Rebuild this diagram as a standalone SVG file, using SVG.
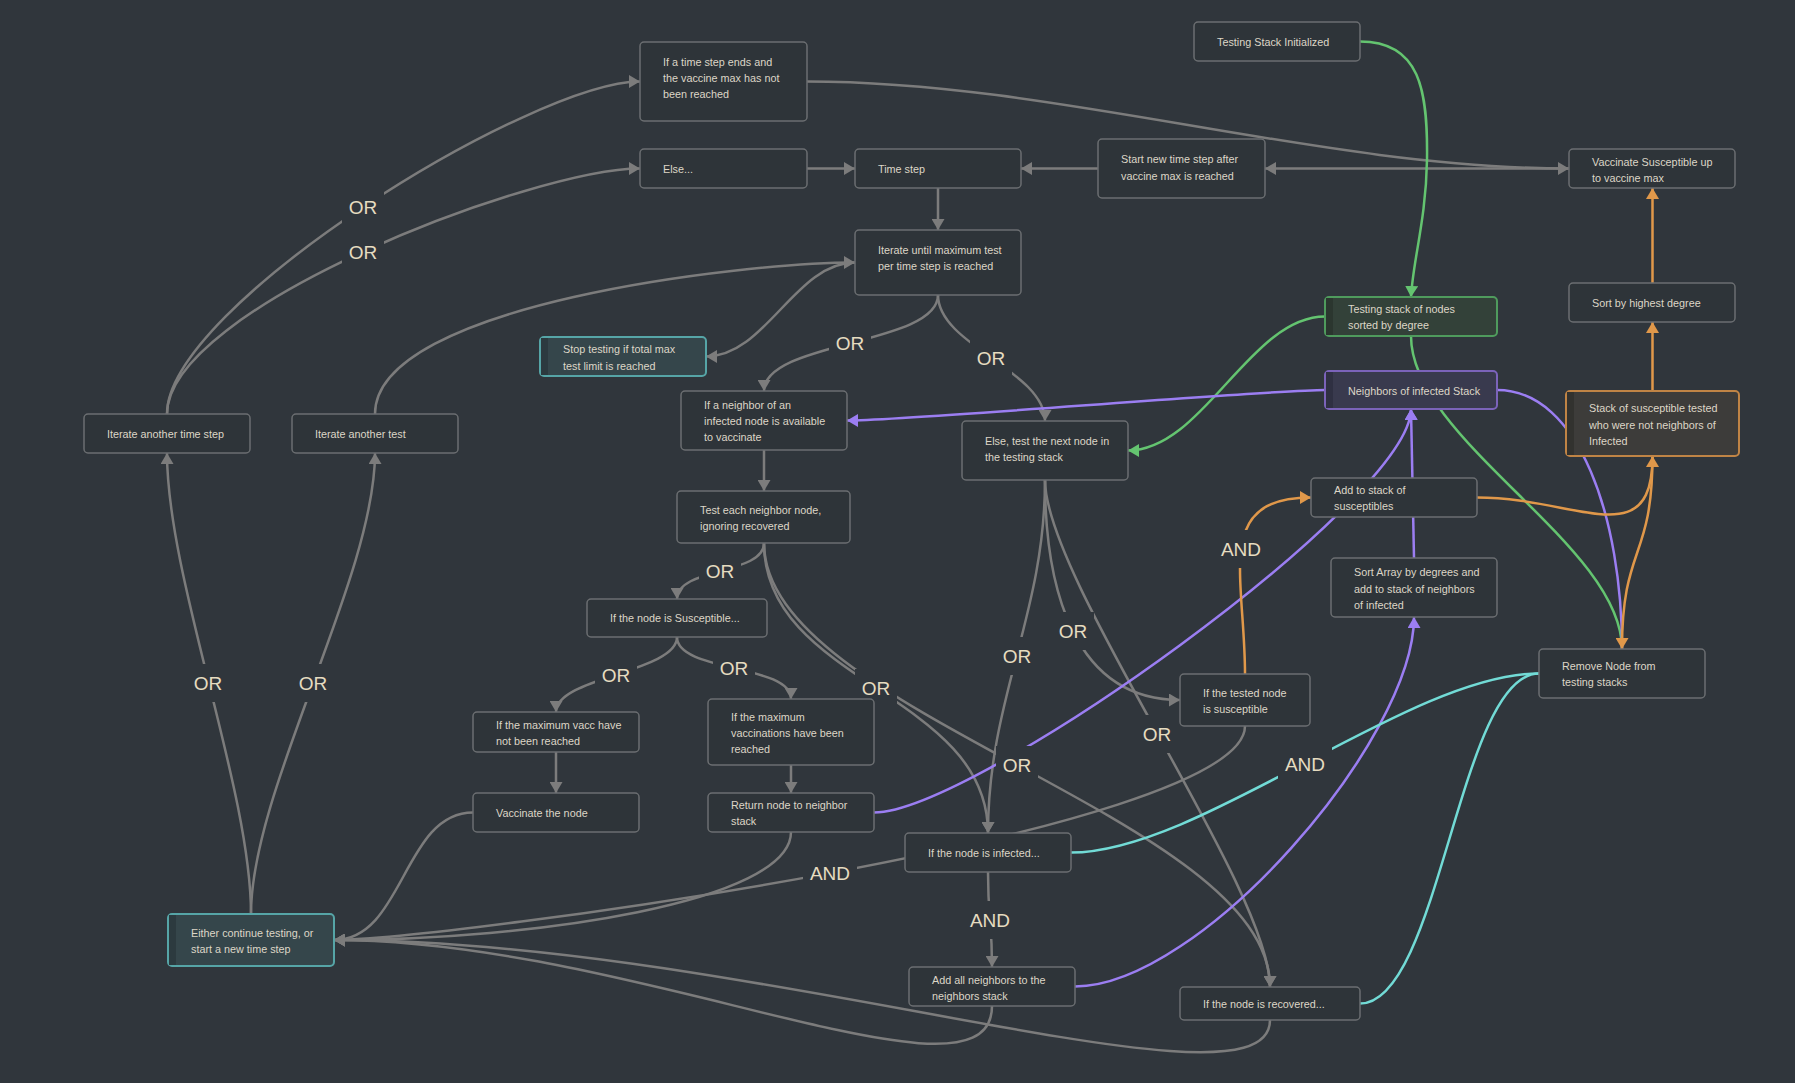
<svg xmlns="http://www.w3.org/2000/svg" width="1795" height="1083" viewBox="0 0 1795 1083">
  <style>
    .bg { fill: #30363c; }
    .edge { fill: none; stroke-width: 2.5; }
    .gray { stroke: #7c7c7c; }
    .green { stroke: #64c470; }
    .purple { stroke: #9b7ef2; }
    .orange { stroke: #e0984a; }
    .cyan { stroke: #72dbd6; }
    .box { fill: #2e3439; stroke: #6b6e71; stroke-width: 1.5; }
    .teal .box { fill: #35464b; stroke: #56a5a7; stroke-width: 2; }
    .teal .strip { fill: #2c3a3f; }
    .grn .box { fill: #334139; stroke: #4f9b5d; stroke-width: 2; }
    .grn .strip { fill: #2b362f; }
    .pur .box { fill: #393a4e; stroke: #7b63ba; stroke-width: 2; }
    .pur .strip { fill: #2f3042; }
    .org .box { fill: #3d3c3a; stroke: #c08445; stroke-width: 2; }
    .org .strip { fill: #32322f; }
    .node text { font-family: "Liberation Sans", Arial, sans-serif; font-size: 10.8px; fill: #ddd6c7; }
    .lbl rect { fill: #30363c; }
    .lbl text { font-family: "Liberation Sans", Arial, sans-serif; font-size: 19px; fill: #e6dcc0; text-anchor: middle; }
  </style>
  <defs>
    <marker id="ah-gray" markerUnits="userSpaceOnUse" markerWidth="12" markerHeight="13" refX="11" refY="6.5" orient="auto">
      <path d="M0,0 L11,6.5 L0,13 z" fill="#7c7c7c"/>
    </marker>
    <marker id="ah-green" markerUnits="userSpaceOnUse" markerWidth="12" markerHeight="13" refX="11" refY="6.5" orient="auto">
      <path d="M0,0 L11,6.5 L0,13 z" fill="#64c470"/>
    </marker>
    <marker id="ah-purple" markerUnits="userSpaceOnUse" markerWidth="12" markerHeight="13" refX="11" refY="6.5" orient="auto">
      <path d="M0,0 L11,6.5 L0,13 z" fill="#9b7ef2"/>
    </marker>
    <marker id="ah-orange" markerUnits="userSpaceOnUse" markerWidth="12" markerHeight="13" refX="11" refY="6.5" orient="auto">
      <path d="M0,0 L11,6.5 L0,13 z" fill="#e0984a"/>
    </marker>
  </defs>

  <rect class="bg" x="0" y="0" width="1795" height="1083"/>

  <!-- connectors -->
  <g id="connectors">
    <!-- gray flow -->
    <path class="edge gray" d="M167,414 C167,306 532,81.5 640,81.5" marker-end="url(#ah-gray)"/>
    <path class="edge gray" d="M167,414 C167,308 534,168.5 640,168.5" marker-end="url(#ah-gray)"/>
    <path class="edge gray" d="M375,414 C375,304 745,262.5 855,262.5" marker-end="url(#ah-gray)"/>
    <path class="edge gray" d="M855,262.5 C795,262.5 766,356.5 706,356.5" marker-end="url(#ah-gray)"/>
    <path class="edge gray" d="M807,168.5 L855,168.5" marker-end="url(#ah-gray)"/>
    <path class="edge gray" d="M1098,168.5 L1021,168.5" marker-end="url(#ah-gray)"/>
    <path class="edge gray" d="M1569,168.5 L1265,168.5" marker-end="url(#ah-gray)"/>
    <path class="edge gray" d="M807,81.5 C1057,81.5 1319,168.5 1569,168.5" marker-end="url(#ah-gray)"/>
    <path class="edge gray" d="M938,188 L938,230" marker-end="url(#ah-gray)"/>
    <path class="edge gray" d="M938,295 C938,345 764,341 764,391" marker-end="url(#ah-gray)"/>
    <path class="edge gray" d="M938,295 C938,345 1045,371 1045,421" marker-end="url(#ah-gray)"/>
    <path class="edge gray" d="M764,450 L764,491" marker-end="url(#ah-gray)"/>
    <path class="edge gray" d="M764,543 C764,575 677,567 677,599" marker-end="url(#ah-gray)"/>
    <path class="edge gray" d="M764,543 C764,683 988,693 988,833" marker-end="url(#ah-gray)"/>
    <path class="edge gray" d="M764,543 C764,713 1270,817 1270,987" marker-end="url(#ah-gray)"/>
    <path class="edge gray" d="M677,637 C677,672 556,677 556,712" marker-end="url(#ah-gray)"/>
    <path class="edge gray" d="M677,637 C677,672 791,664 791,699" marker-end="url(#ah-gray)"/>
    <path class="edge gray" d="M556,752 L556,793" marker-end="url(#ah-gray)"/>
    <path class="edge gray" d="M791,765 L791,793" marker-end="url(#ah-gray)"/>
    <path class="edge gray" d="M473,812.5 C403,812.5 404,940 334,940" marker-end="url(#ah-gray)"/>
    <path class="edge gray" d="M791,832 C791,902 534,940 334,940" marker-end="url(#ah-gray)"/>
    <path class="edge gray" d="M1245,726 C1245,833 441,940 334,940" marker-end="url(#ah-gray)"/>
    <path class="edge gray" d="M992,1006 C992,1120 634,940 334,940" marker-end="url(#ah-gray)"/>
    <path class="edge gray" d="M1270,1020 C1270,1125 754,940 334,940" marker-end="url(#ah-gray)"/>
    <path class="edge gray" d="M251,914 C251,789 167,578 167,453" marker-end="url(#ah-gray)"/>
    <path class="edge gray" d="M251,914 C251,789 375,578 375,453" marker-end="url(#ah-gray)"/>
    <path class="edge gray" d="M1045,480 C1045,615 988,698 988,833" marker-end="url(#ah-gray)"/>
    <path class="edge gray" d="M1045,480 C1045,587 1073,700 1180,700" marker-end="url(#ah-gray)"/>
    <path class="edge gray" d="M1045,480 C1045,580 1270,887 1270,987" marker-end="url(#ah-gray)"/>
    <path class="edge gray" d="M988,872 C988,920 992,920 992,967" marker-end="url(#ah-gray)"/>

    <!-- testing stack (green) -->
    <path class="edge green" d="M1360,41.5 C1420,41.5 1428,90 1427,160 C1426,220 1413,260 1411,297" marker-end="url(#ah-green)"/>
    <path class="edge green" d="M1325,316.5 C1250,316.5 1203,450.5 1128,450.5" marker-end="url(#ah-green)"/>
    <path class="edge green" d="M1411,336 C1411,440 1622,545 1622,649"/>

    <!-- neighbors stack (purple) -->
    <path class="edge purple" d="M1325,390 C1265,390 907,420.5 847,420.5" marker-end="url(#ah-purple)"/>
    <path class="edge purple" d="M1497,390 C1580,390 1622,520 1622,649"/>
    <path class="edge purple" d="M1075,986.5 C1200,986.5 1414,740 1414,617" marker-end="url(#ah-purple)"/>
    <path class="edge purple" d="M874,812.5 C974,812.5 1411,501 1411,409" marker-end="url(#ah-purple)"/>
    <path class="edge purple" d="M1414,558 L1411,409" marker-end="url(#ah-purple)"/>

    <!-- susceptible stack (orange) -->
    <path class="edge orange" d="M1245,674 C1245,576 1213,497.5 1311,497.5" marker-end="url(#ah-orange)"/>
    <path class="edge orange" d="M1477,497.5 C1577,497.5 1652.5,556 1652.5,456" marker-end="url(#ah-orange)"/>
    <path class="edge orange" d="M1652.5,456 C1652.5,560 1622,545 1622,649" marker-end="url(#ah-orange)"/>
    <path class="edge orange" d="M1652.5,391 L1652.5,322" marker-end="url(#ah-orange)"/>
    <path class="edge orange" d="M1652.5,283 L1652.5,188" marker-end="url(#ah-orange)"/>

    <!-- removal (cyan) -->
    <path class="edge cyan" d="M1071,852.5 C1200,852.5 1410,673.5 1539,673.5"/>
    <path class="edge cyan" d="M1360,1003.5 C1440,1003.5 1459,673.5 1539,673.5"/>
  </g>

  <!-- connector labels -->
  <g id="connector-labels" class="lbl">
    <g><rect x="342" y="188" width="42" height="38"/><text x="363" y="214">OR</text></g>
    <g><rect x="342" y="233" width="42" height="38"/><text x="363" y="259">OR</text></g>
    <g><rect x="829" y="324" width="42" height="38"/><text x="850" y="350">OR</text></g>
    <g><rect x="970" y="339" width="42" height="38"/><text x="991" y="365">OR</text></g>
    <g><rect x="699" y="552" width="42" height="38"/><text x="720" y="578">OR</text></g>
    <g><rect x="855" y="669" width="42" height="38"/><text x="876" y="695">OR</text></g>
    <g><rect x="996" y="746" width="42" height="38"/><text x="1017" y="772">OR</text></g>
    <g><rect x="595" y="656" width="42" height="38"/><text x="616" y="682">OR</text></g>
    <g><rect x="713" y="649" width="42" height="38"/><text x="734" y="675">OR</text></g>
    <g><rect x="996" y="637" width="42" height="38"/><text x="1017" y="663">OR</text></g>
    <g><rect x="1052" y="612" width="42" height="38"/><text x="1073" y="638">OR</text></g>
    <g><rect x="1136" y="715" width="42" height="38"/><text x="1157" y="741">OR</text></g>
    <g><rect x="187" y="664" width="42" height="38"/><text x="208" y="690">OR</text></g>
    <g><rect x="292" y="664" width="42" height="38"/><text x="313" y="690">OR</text></g>
    <g><rect x="803" y="854" width="54" height="38"/><text x="830" y="880">AND</text></g>
    <g><rect x="963" y="901" width="54" height="38"/><text x="990" y="927">AND</text></g>
    <g><rect x="1214" y="530" width="54" height="38"/><text x="1241" y="556">AND</text></g>
    <g><rect x="1278" y="745" width="54" height="38"/><text x="1305" y="771">AND</text></g>
  </g>

  <!-- nodes -->
  <g id="node-timestep-ends" class="node">
    <rect class="box" x="640" y="42" width="167" height="79" rx="4"/>
    <text x="663" y="66">If a time step ends and</text>
    <text x="663" y="82">the vaccine max has not</text>
    <text x="663" y="98">been reached</text>
  </g>
  <g id="node-else" class="node">
    <rect class="box" x="640" y="149" width="167" height="39" rx="4"/>
    <text x="663" y="172.5">Else...</text>
  </g>
  <g id="node-time-step" class="node">
    <rect class="box" x="855" y="149" width="166" height="39" rx="4"/>
    <text x="878" y="172.5">Time step</text>
  </g>
  <g id="node-iterate-until" class="node">
    <rect class="box" x="855" y="230" width="166" height="65" rx="4"/>
    <text x="878" y="254">Iterate until maximum test</text>
    <text x="878" y="270">per time step is reached</text>
  </g>
  <g id="node-start-new-step" class="node">
    <rect class="box" x="1098" y="139" width="167" height="59" rx="4"/>
    <text x="1121" y="163">Start new time step after</text>
    <text x="1121" y="180">vaccine max is reached</text>
  </g>
  <g id="node-testing-init" class="node">
    <rect class="box" x="1194" y="22" width="166" height="39" rx="4"/>
    <text x="1217" y="46">Testing Stack Initialized</text>
  </g>
  <g id="node-vaccinate-up-to-max" class="node">
    <rect class="box" x="1569" y="149" width="166" height="39" rx="4"/>
    <text x="1592" y="166">Vaccinate Susceptible up</text>
    <text x="1592" y="182">to vaccine max</text>
  </g>
  <g id="node-sort-highest" class="node">
    <rect class="box" x="1569" y="283" width="166" height="39" rx="4"/>
    <text x="1592" y="307">Sort by highest degree</text>
  </g>
  <g id="node-testing-stack" class="node grn">
    <rect class="box" x="1325" y="297" width="172" height="39" rx="4"/>
    <rect class="strip" x="1326" y="298" width="7" height="37"/>
    <text x="1348" y="313">Testing stack of nodes</text>
    <text x="1348" y="329">sorted by degree</text>
  </g>
  <g id="node-neighbors-stack" class="node pur">
    <rect class="box" x="1325" y="371" width="172" height="38" rx="4"/>
    <rect class="strip" x="1326" y="372" width="7" height="36"/>
    <text x="1348" y="395">Neighbors of infected Stack</text>
  </g>
  <g id="node-susceptible-stack" class="node org">
    <rect class="box" x="1566" y="391" width="173" height="65" rx="4"/>
    <rect class="strip" x="1567" y="392" width="7" height="63"/>
    <text x="1589" y="412">Stack of susceptible tested</text>
    <text x="1589" y="429">who were not neighbors of</text>
    <text x="1589" y="445">Infected</text>
  </g>
  <g id="node-add-susceptibles" class="node">
    <rect class="box" x="1311" y="478" width="166" height="39" rx="4"/>
    <text x="1334" y="494">Add to stack of</text>
    <text x="1334" y="510">susceptibles</text>
  </g>
  <g id="node-sort-array" class="node">
    <rect class="box" x="1331" y="558" width="166" height="59" rx="4"/>
    <text x="1354" y="576">Sort Array by degrees and</text>
    <text x="1354" y="593">add to stack of neighbors</text>
    <text x="1354" y="609">of infected</text>
  </g>
  <g id="node-remove" class="node">
    <rect class="box" x="1539" y="649" width="166" height="49" rx="4"/>
    <text x="1562" y="670">Remove Node from</text>
    <text x="1562" y="686">testing stacks</text>
  </g>
  <g id="node-tested-susceptible" class="node">
    <rect class="box" x="1180" y="674" width="130" height="52" rx="4"/>
    <text x="1203" y="697">If the tested node</text>
    <text x="1203" y="713">is susceptible</text>
  </g>
  <g id="node-stop-testing" class="node teal">
    <rect class="box" x="540" y="337" width="166" height="39" rx="4"/>
    <rect class="strip" x="541" y="338" width="7" height="37"/>
    <text x="563" y="353">Stop testing if total max</text>
    <text x="563" y="370">test limit is reached</text>
  </g>
  <g id="node-neighbor-available" class="node">
    <rect class="box" x="681" y="391" width="166" height="59" rx="4"/>
    <text x="704" y="409">If a neighbor of an</text>
    <text x="704" y="425">infected node is available</text>
    <text x="704" y="441">to vaccinate</text>
  </g>
  <g id="node-else-test-next" class="node">
    <rect class="box" x="962" y="421" width="166" height="59" rx="4"/>
    <text x="985" y="445">Else, test the next node in</text>
    <text x="985" y="461">the testing stack</text>
  </g>
  <g id="node-test-each" class="node">
    <rect class="box" x="677" y="491" width="173" height="52" rx="4"/>
    <text x="700" y="514">Test each neighbor node,</text>
    <text x="700" y="530">ignoring recovered</text>
  </g>
  <g id="node-is-susceptible" class="node">
    <rect class="box" x="587" y="599" width="180" height="38" rx="4"/>
    <text x="610" y="622">If the node is Susceptible...</text>
  </g>
  <g id="node-max-not-reached" class="node">
    <rect class="box" x="473" y="712" width="166" height="40" rx="4"/>
    <text x="496" y="729">If the maximum vacc have</text>
    <text x="496" y="745">not been reached</text>
  </g>
  <g id="node-max-reached" class="node">
    <rect class="box" x="708" y="699" width="166" height="66" rx="4"/>
    <text x="731" y="721">If the maximum</text>
    <text x="731" y="737">vaccinations have been</text>
    <text x="731" y="753">reached</text>
  </g>
  <g id="node-vaccinate" class="node">
    <rect class="box" x="473" y="793" width="166" height="39" rx="4"/>
    <text x="496" y="816.5">Vaccinate the node</text>
  </g>
  <g id="node-return" class="node">
    <rect class="box" x="708" y="793" width="166" height="39" rx="4"/>
    <text x="731" y="809">Return node to neighbor</text>
    <text x="731" y="825">stack</text>
  </g>
  <g id="node-iterate-step" class="node">
    <rect class="box" x="84" y="414" width="166" height="39" rx="4"/>
    <text x="107" y="438">Iterate another time step</text>
  </g>
  <g id="node-iterate-test" class="node">
    <rect class="box" x="292" y="414" width="166" height="39" rx="4"/>
    <text x="315" y="438">Iterate another test</text>
  </g>
  <g id="node-either" class="node teal">
    <rect class="box" x="168" y="914" width="166" height="52" rx="4"/>
    <rect class="strip" x="169" y="915" width="7" height="50"/>
    <text x="191" y="937">Either continue testing, or</text>
    <text x="191" y="953">start a new time step</text>
  </g>
  <g id="node-is-infected" class="node">
    <rect class="box" x="905" y="833" width="166" height="39" rx="4"/>
    <text x="928" y="856.5">If the node is infected...</text>
  </g>
  <g id="node-add-neighbors" class="node">
    <rect class="box" x="909" y="967" width="166" height="39" rx="4"/>
    <text x="932" y="984">Add all neighbors to the</text>
    <text x="932" y="1000">neighbors stack</text>
  </g>
  <g id="node-is-recovered" class="node">
    <rect class="box" x="1180" y="987" width="180" height="33" rx="4"/>
    <text x="1203" y="1008">If the node is recovered...</text>
  </g>
</svg>
